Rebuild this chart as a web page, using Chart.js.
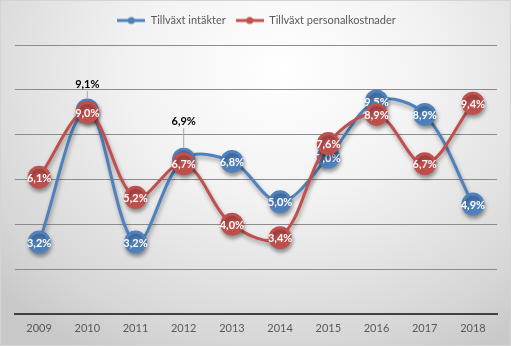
<!DOCTYPE html>
<html>
<head>
<meta charset="utf-8">
<script src="https://cdn.jsdelivr.net/npm/chart.js@4"></script>
<style>
  html, body { margin: 0; padding: 0; }
  body { width: 511px; height: 346px; overflow: hidden; }
  .wrap {
    position: relative; width: 509px; height: 344px;
    border: 1px solid #d4d4d4;
    background: radial-gradient(ellipse 75% 95% at 55% 20%, #ffffff 0%, #f2f2f2 40%, #d6d6d6 85%, #c9c9c9 100%);
  }
</style>
</head>
<body>
<div class="wrap"><canvas id="myChart" width="509" height="344"></canvas></div>
<script>
const years = ['2009', '2010', '2011', '2012', '2013', '2014', '2015', '2016', '2017', '2018'];
const intakter = [3.2, 9.1, 3.2, 6.9, 6.8, 5.0, 7.0, 9.5, 8.9, 4.9];
const personal = [6.1, 9.0, 5.2, 6.7, 4.0, 3.4, 7.6, 8.9, 6.7, 9.4];
const seriesNames = ['Tillväxt intäkter', 'Tillväxt personalkostnader'];
const yTicks = [0, 2, 4, 6, 8, 10, 12];

const blue = '#4f81bd';
const red = '#c0504d';

// blue labels that sit outside the marker (hidden under the red ones)
const outside = { 1: 26, 3: 38 };

let fmt = v => v.toFixed(1).replace('.', ',') + '%';

let legendIcon = color => {
    let c = document.createElement('canvas');
    c.width = 28; c.height = 10;
    let g = c.getContext('2d');
    g.strokeStyle = color; g.lineWidth = 3;
    g.beginPath(); g.moveTo(0, 5); g.lineTo(28, 5); g.stroke();
    g.fillStyle = color;
    g.beginPath(); g.arc(14, 5, 3.5, 0, Math.PI * 2); g.fill();
    return c;
};
const icons = [legendIcon(blue), legendIcon(red)];

// extra room between legend and plot
const legendGap = {
    id: 'legendGap',
    beforeInit(chart) {
        let fit = chart.legend.fit;
        chart.legend.fit = function () {
            fit.bind(chart.legend)();
            this.height += 9;
        };
    }
};

const labelPlugin = {
    id: 'labels',
    beforeDatasetDraw(chart) {
        let ctx = chart.ctx;
        ctx.save();
        ctx.shadowColor = 'rgba(0,0,0,0.35)';
        ctx.shadowBlur = 4;
        ctx.shadowOffsetX = 1;
        ctx.shadowOffsetY = 3;
    },
    afterDatasetDraw(chart, args) {
        let ctx = chart.ctx;
        ctx.restore();
        let ds = chart.data.datasets[args.index];
        ctx.save();
        ctx.font = 'bold 11px Lato';
        ctx.textAlign = 'center';
        ctx.textBaseline = 'middle';
        args.meta.data.forEach((pt, i) => {
            let v = ds.data[i];
            if (args.index === 0 && outside[i]) {
                let off = outside[i];
                ctx.strokeStyle = '#a6a6a6';
                ctx.lineWidth = 1;
                ctx.beginPath();
                ctx.moveTo(pt.x, pt.y - off + 7);
                ctx.lineTo(pt.x, pt.y - 12);
                ctx.stroke();
                ctx.fillStyle = '#000000';
                ctx.fillText(fmt(v), pt.x, pt.y - off);
            } else {
                ctx.fillStyle = '#ffffff';
                ctx.fillText(fmt(v), pt.x, pt.y + 1);
            }
        });
        ctx.restore();
    }
};

var ctx = document.getElementById('myChart').getContext('2d');
var myChart = new Chart(ctx, {
    type: 'line',
    data: {
        labels: years,
        datasets: [{
            label: seriesNames[0],
            data: intakter,
            borderColor: blue,
            backgroundColor: blue,
            pointBackgroundColor: blue,
            pointBorderColor: blue,
            borderWidth: 3,
            pointRadius: 10,
            pointHoverRadius: 10,
            tension: 0.35,
            order: 1
        }, {
            label: seriesNames[1],
            data: personal,
            borderColor: red,
            backgroundColor: red,
            pointBackgroundColor: red,
            pointBorderColor: red,
            borderWidth: 3,
            pointRadius: 10,
            pointHoverRadius: 10,
            tension: 0.35,
            order: 0
        }]
    },
    options: {
        responsive: false,
        animation: false,
        layout: { padding: { left: 14, right: 12, top: 4, bottom: 10 } },
        plugins: {
            tooltip: { enabled: false },
            legend: {
                position: 'top',
                labels: {
                    usePointStyle: true,
                    pointStyleWidth: 28,
                    color: '#595959',
                    font: { family: 'Lato', size: 11 },
                    padding: 10,
                    sort: (a, b) => a.datasetIndex - b.datasetIndex,
                    generateLabels: chart => {
                        let items = Chart.defaults.plugins.legend.labels.generateLabels(chart);
                        items.forEach(it => { it.pointStyle = icons[it.datasetIndex]; });
                        return items;
                    }
                }
            }
        },
        scales: {
            x: {
                offset: true,
                grid: { display: false },
                border: { color: '#404040', width: 2 },
                ticks: { color: '#595959', font: { family: 'Lato', size: 11 }, padding: 0 }
            },
            y: {
                min: 0,
                max: 12,
                afterBuildTicks: axis => { axis.ticks = yTicks.map(v => ({ value: v })); },
                ticks: { display: false },
                border: { display: false },
                grid: { color: '#8c8c8c', lineWidth: 1, drawTicks: false }
            }
        }
    },
    plugins: [labelPlugin, legendGap]
});
</script>
</body>
</html>
